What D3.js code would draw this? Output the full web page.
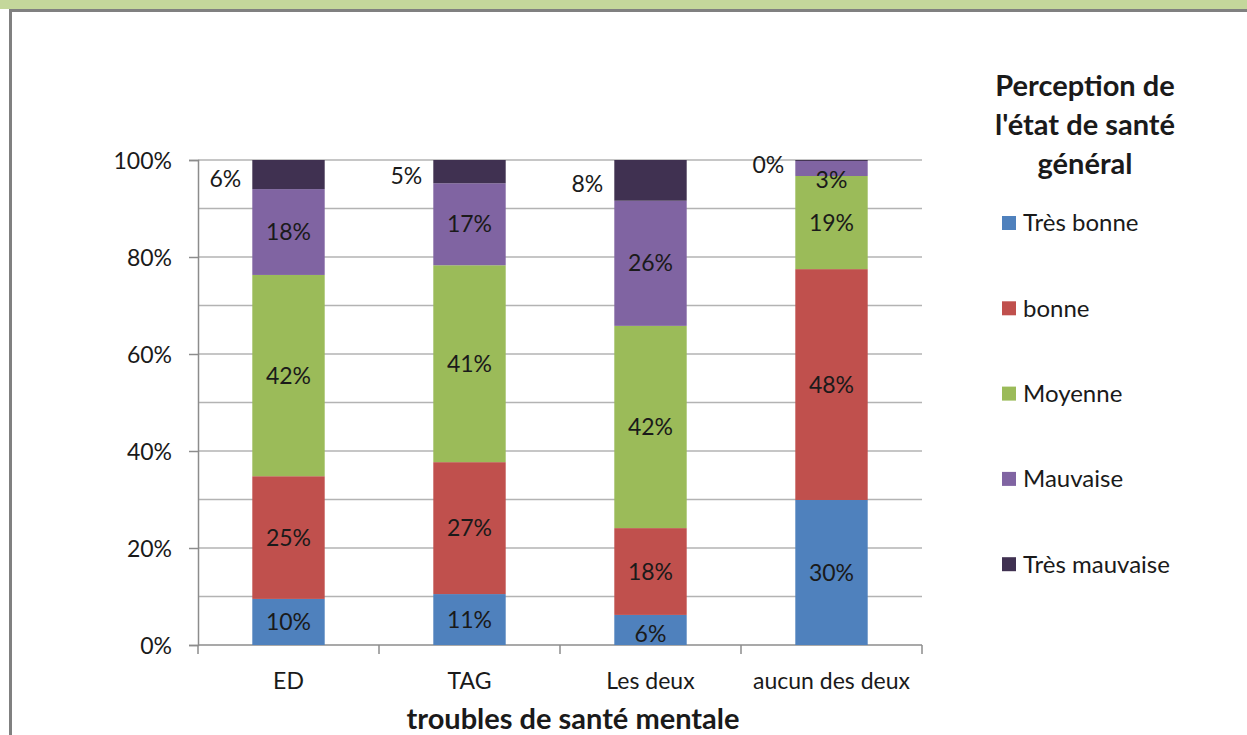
<!DOCTYPE html>
<html>
<head>
<meta charset="utf-8">
<script src="https://cdn.jsdelivr.net/npm/d3@7"></script>
<style>
  body { margin: 0; background: #fff; }
  text { font-family: Lato, "Open Sans", sans-serif; fill: #1a1a1a; }
</style>
</head>
<body>
<div id="my_chart"></div>
<script>
// data
var categories = ["ED", "TAG", "Les deux", "aucun des deux"];
var seriesNames = ["Très bonne", "bonne", "Moyenne", "Mauvaise", "Très mauvaise"];
var tresBonne = [9.5, 10.5, 6.2, 29.9];
var bonne = [25.3, 27.2, 17.9, 47.6];
var moyenne = [41.5, 40.6, 41.7, 19.2];
var mauvaise = [17.7, 16.9, 25.8, 3.1];
var tresMauvaise = [6.0, 4.8, 8.4, 0.2];
var labels = [
  ["10%", "11%", "6%", "30%"],
  ["25%", "27%", "18%", "48%"],
  ["42%", "41%", "42%", "19%"],
  ["18%", "17%", "26%", "3%"],
  ["6%", "5%", "8%", "0%"]
];
var yTicks = [0, 20, 40, 60, 80, 100];
var colors = ["#4f81bd", "#c0504d", "#9bbb59", "#8064a2", "#403151"];

var W = 1247, H = 735, svg, x, y;
drawChart();

function drawChart()
{
  svg = d3.select("#my_chart").append("svg")
    .attr("width", W).attr("height", H);

  // frame: green band on top, grey borders
  svg.append("rect").attr("x", 0).attr("y", 0).attr("width", W).attr("height", 9).attr("fill", "#c4d79b");
  svg.append("rect").attr("x", 9).attr("y", 9).attr("width", W - 9).attr("height", 3).attr("fill", "#808080");
  svg.append("rect").attr("x", 9).attr("y", 9).attr("width", 3).attr("height", H - 9).attr("fill", "#808080");

  x = d3.scaleBand().domain(categories).range([198, 922]).paddingInner(0.6).paddingOuter(0.3);
  y = d3.scaleLinear().domain([0, 100]).range([645, 160]);

  // gridlines every 10%
  svg.append("g").selectAll("line")
    .data(d3.range(10, 101, 10))
    .enter().append("line")
    .attr("x1", 198).attr("x2", 922)
    .attr("y1", function(d) { return y(d); })
    .attr("y2", function(d) { return y(d); })
    .attr("stroke", "#b3b3b3").attr("stroke-width", 1.5);

  // y axis
  var yAxis = svg.append("g").attr("transform", "translate(198,0)")
    .call(d3.axisLeft(y).tickValues(yTicks).tickSize(9).tickPadding(17).tickFormat(function(d) { return d + "%"; }));
  yAxis.select(".domain").attr("stroke", "#8c8c8c").attr("stroke-width", 1.5);
  yAxis.selectAll(".tick line").attr("stroke", "#8c8c8c").attr("stroke-width", 1.5);
  yAxis.selectAll("text").style("font-size", "23px").attr("fill", "#1a1a1a").attr("dy", "0.35em");

  // x axis
  var xSep = d3.scaleLinear().domain([0, 4]).range([198, 922]);
  svg.append("line").attr("x1", 198).attr("x2", 922).attr("y1", 645).attr("y2", 645)
    .attr("stroke", "#8c8c8c").attr("stroke-width", 1.5);
  svg.append("g").selectAll("line").data(d3.range(0, 5)).enter().append("line")
    .attr("x1", function(d) { return xSep(d); }).attr("x2", function(d) { return xSep(d); })
    .attr("y1", 645).attr("y2", 654)
    .attr("stroke", "#8c8c8c").attr("stroke-width", 1.5);
  svg.append("g").selectAll("text").data(categories).enter().append("text")
    .attr("x", function(d) { return x(d) + x.bandwidth() / 2; })
    .attr("y", 689)
    .attr("text-anchor", "middle")
    .style("font-size", "23px")
    .text(function(d) { return d; });

  svg.append("text").attr("x", 573).attr("y", 729).attr("text-anchor", "middle")
    .style("font-size", "29px").style("font-weight", "bold")
    .text("troubles de santé mentale");

  // stacked bars
  var rows = categories.map(function(c, i) {
    return { cat: c, s0: tresBonne[i], s1: bonne[i], s2: moyenne[i], s3: mauvaise[i], s4: tresMauvaise[i] };
  });
  var stack = d3.stack().keys(["s0", "s1", "s2", "s3", "s4"])(rows);

  var layers = svg.append("g").selectAll("g").data(stack).enter().append("g")
    .attr("fill", function(d, i) { return colors[i]; });

  layers.selectAll("rect").data(function(d) { return d; }).enter().append("rect")
    .attr("x", function(d) { return x(d.data.cat); })
    .attr("y", function(d) { return y(d[1]); })
    .attr("width", x.bandwidth())
    .attr("height", function(d) { return y(d[0]) - y(d[1]); });

  // value labels
  stack.forEach(function(layer, si) {
    layer.forEach(function(d, ci) {
      var tx, ty, anchor = "middle";
      if (si == 4) {
        // top segment labels sit left of the bar
        tx = x(d.data.cat) - 11;
        ty = (y(d[0]) + y(d[1])) / 2 + 4;
        anchor = "end";
      } else {
        tx = x(d.data.cat) + x.bandwidth() / 2;
        ty = Math.max((y(d[0]) + y(d[1])) / 2, y(d[1]) + 19);
      }
      svg.append("text")
        .attr("x", tx).attr("y", ty).attr("dy", "0.35em")
        .attr("text-anchor", anchor)
        .style("font-size", "23px")
        .text(labels[si][ci]);
    });
  });

  // legend
  var title = ["Perception de", "l'état de santé", "général"];
  svg.append("g").selectAll("text").data(title).enter().append("text")
    .attr("x", 1085).attr("y", function(d, i) { return 96 + i * 39; })
    .attr("text-anchor", "middle")
    .style("font-size", "29px").style("font-weight", "bold")
    .text(function(d) { return d; });

  var legend = svg.append("g").selectAll("g").data(seriesNames).enter().append("g")
    .attr("transform", function(d, i) { return "translate(1002," + (223 + i * 85.3) + ")"; });
  legend.append("rect").attr("x", 0).attr("y", -7).attr("width", 14).attr("height", 14)
    .attr("fill", function(d, i) { return colors[i]; });
  legend.append("text").attr("x", 21).attr("y", 0).attr("dy", "0.35em")
    .style("font-size", "24px")
    .text(function(d) { return d; });
}
</script>
</body>
</html>
